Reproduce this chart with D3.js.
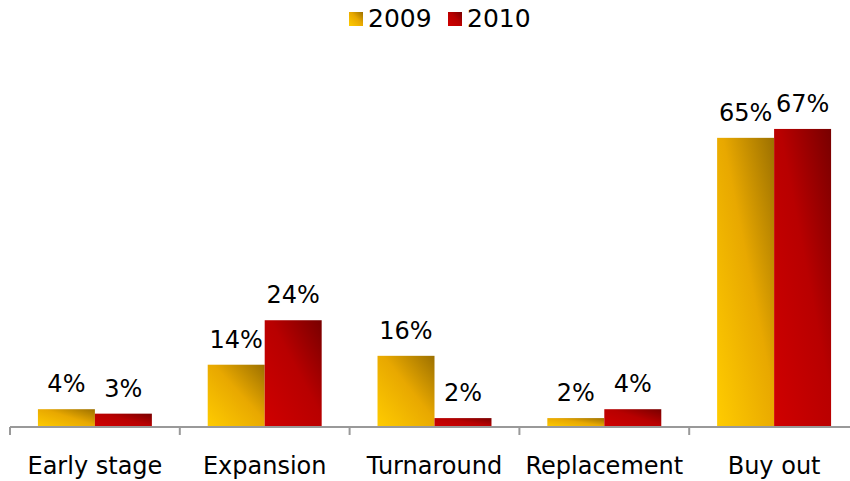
<!DOCTYPE html>
<html><head><meta charset="utf-8">
<script src="https://cdn.jsdelivr.net/npm/d3@7"></script>
<style>body{margin:0;background:#fff}svg{display:block}text{font-family:"DejaVu Sans",Verdana,sans-serif}</style>
</head><body>
<svg id="c" width="850" height="481"></svg>
<script>
const categories = ["Early stage","Expansion","Turnaround","Replacement","Buy out"];
const seriesNames = ["2009","2010"];
const values2009 = [4,14,16,2,65];
const values2010 = [3,24,2,4,67];
const seriesValues = [values2009, values2010];

const svg = d3.select("#c");
const defs = svg.append("defs");
const grads = [
  {id:"g2009", stops:[["0%","#FFCC00"],["55%","#E8A800"],["100%","#9C7000"]]},
  {id:"g2010", stops:[["0%","#D00000"],["55%","#B80000"],["100%","#780000"]]}
];
grads.forEach(g=>{
  const lg = defs.append("linearGradient").attr("id",g.id).attr("x1","0").attr("y1","1").attr("x2","1").attr("y2","0");
  g.stops.forEach(s=>lg.append("stop").attr("offset",s[0]).attr("stop-color",s[1]));
});

const baseY = 427;
const x0 = d3.scaleBand().domain(categories).range([10, 859]).padding(0);
const x1 = d3.scaleBand().domain(seriesNames).range([0, x0.bandwidth()]).paddingInner(0).paddingOuter(0.49);
const y = d3.scaleLinear().domain([0, 70]).range([baseY, 115.6]);

const g = svg.append("g");
categories.forEach((c,i)=>{
  seriesNames.forEach((s,j)=>{
    const v = seriesValues[j][i];
    const bx = x0(c)+x1(s);
    g.append("rect").attr("x",bx).attr("y",y(v)).attr("width",x1.bandwidth()).attr("height",baseY-y(v))
      .attr("fill",`url(#${grads[j].id})`);
    g.append("text").attr("x",bx+x1.bandwidth()/2).attr("y",y(v)-17).attr("text-anchor","middle")
      .attr("font-size",24).attr("fill","#000").text(v+"%");
  });
});

// axis
const axis = d3.axisBottom(x0).tickSize(0).tickFormat(d=>d);
const ag = svg.append("g").attr("transform",`translate(0,${baseY})`).call(axis);
ag.select(".domain").attr("stroke","#999").attr("stroke-width",2).attr("d",`M10,0H859`);
ag.selectAll(".tick text").attr("font-size",24).attr("fill","#000").attr("dy",0).attr("y",47)
  .style("font-family",'"DejaVu Sans",Verdana,sans-serif');
const bounds = categories.map(c=>x0(c)).concat([x0(categories[categories.length-1])+x0.bandwidth()]);
ag.selectAll(".bound").data(bounds).enter().append("line").attr("class","bound")
  .attr("x1",d=>d).attr("x2",d=>d).attr("y1",0).attr("y2",8).attr("stroke","#999").attr("stroke-width",2);

// legend
const legend = svg.append("g");
const legItems = [{x:349,name:"2009",grad:"g2009"},{x:448,name:"2010",grad:"g2010"}];
legItems.forEach(l=>{
  legend.append("rect").attr("x",l.x).attr("y",12).attr("width",14).attr("height",14).attr("fill",`url(#${l.grad})`);
  legend.append("text").attr("x",l.x+19).attr("y",27).attr("font-size",25).attr("fill","#000").text(l.name);
});
</script>
</body></html>
